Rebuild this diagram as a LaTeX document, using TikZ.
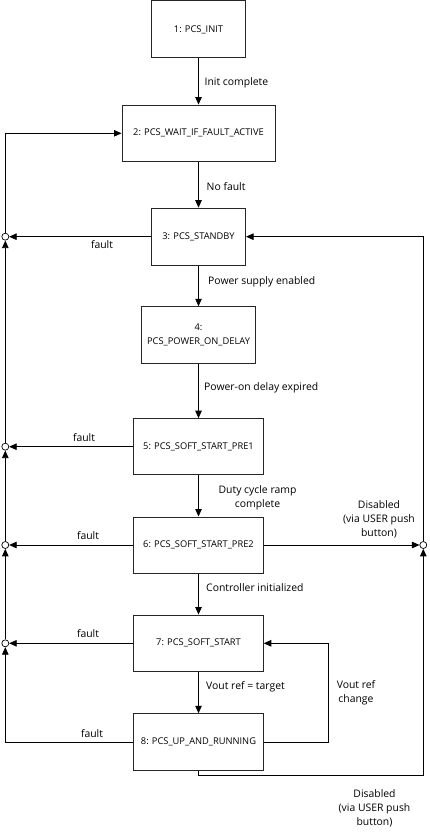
\documentclass[tikz,border=0pt]{standalone}
\usepackage{fontspec}
\setmainfont{Open Sans}
\usetikzlibrary{arrows.meta}
\begin{document}
\begin{tikzpicture}[x=1pt,y=-1pt,
  state/.style={draw=black!85,line width=1pt,fill=white,inner sep=0pt,
    align=center,font=\fontsize{9.3}{13.7}\selectfont},
  conn/.style={line width=0.8pt,-{Triangle[length=7.5pt,width=6.5pt]}},
  junction/.style={circle,draw,line width=0.7pt,fill=white,minimum size=7pt,inner sep=0pt},
  lbl/.style={font=\fontsize{10.4}{14.3}\selectfont,inner sep=0pt,align=center}]
\useasboundingbox (0,0) rectangle (429,837);

% states
\node[state,minimum width=94pt,minimum height=57pt]    (b1) at (198.5,29.5)  {1: PCS\_INIT};
\node[state,minimum width=153pt,minimum height=56.5pt] (b2) at (198.5,133.3) {2: PCS\_WAIT\_IF\_FAULT\_ACTIVE};
\node[state,minimum width=94pt,minimum height=57pt]    (b3) at (198.5,236.7) {3: PCS\_STANDBY};
\node[state,minimum width=114pt,minimum height=56.5pt] (b4) at (198.5,335)   {4:\\PCS\_POWER\_ON\_DELAY};
\node[state,minimum width=129.5pt,minimum height=56pt] (b5) at (198.5,446.7) {5: PCS\_SOFT\_START\_PRE1};
\node[state,minimum width=129.5pt,minimum height=56pt] (b6) at (198.5,545)   {6: PCS\_SOFT\_START\_PRE2};
\node[state,minimum width=129.5pt,minimum height=56.5pt] (b7) at (198.5,643.3) {7: PCS\_SOFT\_START};
\node[state,minimum width=129.5pt,minimum height=56.5pt] (b8) at (198.5,742) {8: PCS\_UP\_AND\_RUNNING};

% junctions
\node[junction] (j3) at (5.3,236.7) {};
\node[junction] (j5) at (5.3,446.7) {};
\node[junction] (j6) at (5.3,545)   {};
\node[junction] (j7) at (5.3,643.3) {};
\node[junction] (jr) at (423.3,545) {};

% bend points
\coordinate (blc) at (5.3,742);
\coordinate (bot) at (198.5,775.7);
\coordinate (vr)  at (328.3,742);

% main sequence
\draw[conn] (b1) -- (b2);
\draw[conn] (b2) -- (b3);
\draw[conn] (b3) -- (b4);
\draw[conn] (b4) -- (b5);
\draw[conn] (b5) -- (b6);
\draw[conn] (b6) -- (b7);
\draw[conn] (b7) -- (b8);

% fault paths
\draw[conn] (b3.west) -- (j3);
\draw[conn] (b5.west) -- (j5);
\draw[conn] (b6.west) -- (j6);
\draw[conn] (b7.west) -- (j7);
\draw[conn] (b8.west) -- (blc) -- (j7);
\draw[conn] (j7) -- (j6);
\draw[conn] (j6) -- (j5);
\draw[conn] (j5) -- (j3);
\draw[conn] (j3) |- (b2.west);

% disable paths
\draw[conn] (b6.east) -- (jr);
\draw[conn] (jr) |- (b3.east);
\draw[conn] (b8.south) -- (bot) -| (jr);

% reference change
\draw[conn] (b8.east) -- (vr) |- (b7.east);

% labels
\node[lbl,anchor=west] (l1) at (204.5,83) {Init complete};
\node[lbl,anchor=west] (l2) at (206.5,187) {No fault};
\node[lbl] (f3) at (102,245) {fault};
\node[lbl,anchor=west] (l3) at (208,282) {Power supply enabled};
\node[lbl,anchor=west] (l4) at (204,388) {Power-on delay expired};
\node[lbl] (f5) at (84,438) {fault};
\node[lbl] (l5) at (257.5,498) {Duty cycle ramp\\complete};
\node[lbl] (f6) at (88,536) {fault};
\node[lbl] (d6) at (379,519.5) {Disabled\\(via USER push\\button)};
\node[lbl,anchor=west] (l6) at (206,588) {Controller initialized};
\node[lbl] (f7) at (88,634) {fault};
\node[lbl,anchor=west] (l7) at (206,687) {Vout ref = target};
\node[lbl] (vc) at (356,693) {Vout ref\\change};
\node[lbl] (f8) at (92,734) {fault};
\node[lbl] (d8) at (374.5,808.5) {Disabled\\(via USER push\\button)};
\end{tikzpicture}
\end{document}
